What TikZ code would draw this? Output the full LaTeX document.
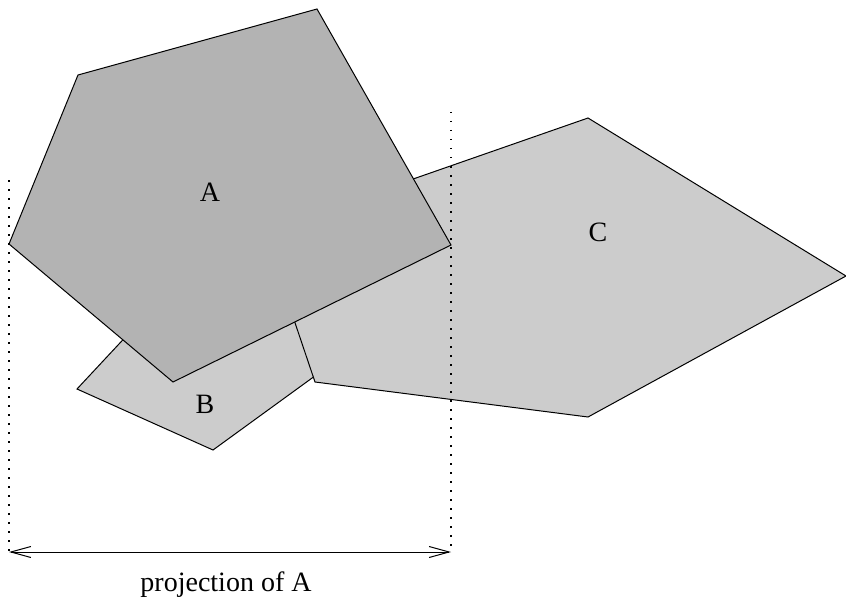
\documentclass[tikz,border=0pt]{standalone}
\usepackage{fontspec}
\setmainfont{Liberation Serif}
\usetikzlibrary{arrows.meta}
\begin{document}
\begin{tikzpicture}[x=1pt,y=-1pt,
  polyline/.style={draw=black,line width=1pt,line join=miter},
  lightfill/.style={polyline,fill={rgb,255:red,204;green,204;blue,204}},
  darkfill/.style={polyline,fill={rgb,255:red,179;green,179;blue,179}},
  guide/.style={line width=1.3pt,dash pattern=on 1.5pt off 7.5pt},
  lbl/.style={font=\fontsize{28}{30}\selectfont,inner sep=0pt}]
\useasboundingbox (0,0) rectangle (846,599);
% B
\draw[lightfill] (77,389) -- (213,450) -- (330,365) -- (300,300) -- (160,300) -- cycle;
% C
\draw[lightfill] (264,231) -- (588,118) -- (846,276) -- (588,417) -- (315,382) -- cycle;
% A
\draw[darkfill] (78,75) -- (317,9) -- (451,245) -- (173,382) -- (9,244) -- cycle;
\node[lbl] (la) at (210,192) {A};
\node[lbl] (lb) at (205,404) {B};
\node[lbl] (lc) at (598,232) {C};
% projection guides
\coordinate (l1) at (9,180);
\coordinate (l2) at (9,552);
\coordinate (r1) at (451,112);
\coordinate (r2) at (451,552);
\draw[guide] (l1) -- (l2);
\draw[guide] (r1) -- (r2);
\draw[line width=1pt,{Straight Barb[length=20pt,width=11pt]}-{Straight Barb[length=20pt,width=11pt]}] (l2) -- (r2);
\node[lbl] (proj) at (226,585) {projection of A};
\end{tikzpicture}
\end{document}
